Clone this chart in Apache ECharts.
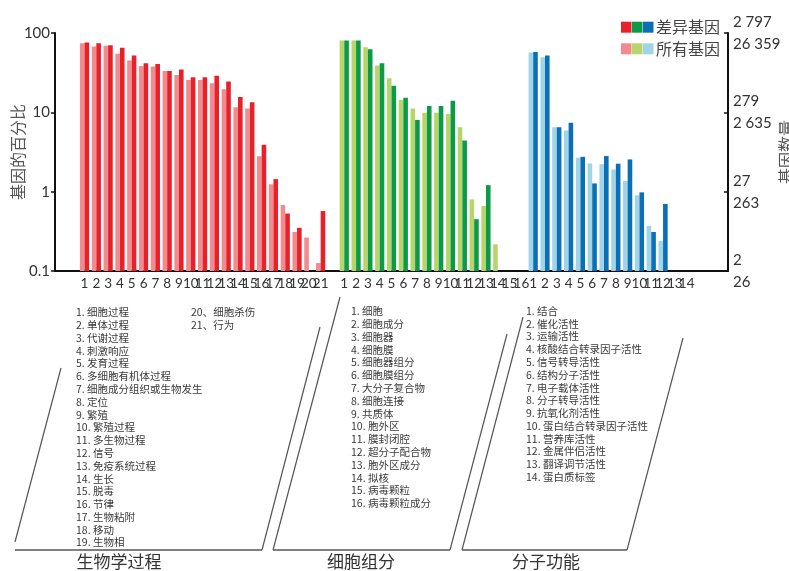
<!DOCTYPE html>
<html>
<head>
<meta charset="utf-8">
<script src="https://cdn.jsdelivr.net/npm/echarts@6/dist/echarts.min.js"></script>
<style>
  html, body { margin: 0; padding: 0; background: #fff; }
  #chart { width: 789px; height: 571px; }
</style>
</head>
<body>
<div id="chart"></div>
<script>
// GO term names per ontology
const bpTerms = ['细胞过程', '单体过程', '代谢过程', '刺激响应', '发育过程', '多细胞有机体过程',
  '细胞成分组织或生物发生', '定位', '繁殖', '繁殖过程', '多生物过程', '信号', '免疫系统过程',
  '生长', '脱毒', '节律', '生物粘附', '移动', '生物相', '细胞杀伤', '行为'];
const ccTerms = ['细胞', '细胞成分', '细胞器', '细胞膜', '细胞器组分', '细胞膜组分', '大分子复合物',
  '细胞连接', '共质体', '胞外区', '膜封闭腔', '超分子配合物', '胞外区成分', '拟核', '病毒颗粒', '病毒颗粒成分'];
const mfTerms = ['结合', '催化活性', '运输活性', '核酸结合转录因子活性', '信号转导活性', '结构分子活性',
  '电子载体活性', '分子转导活性', '抗氧化剂活性', '蛋白结合转录因子活性', '营养库活性', '金属伴侣活性',
  '翻译调节活性', '蛋白质标签'];

// Percentage of genes per term: all genes vs differentially expressed genes
const bpAll  = [74.5, 67.5, 68.9, 54.6, 45, 38.5, 37.8, 33.3, 29.6, 25.6, 25.6, 23.2, 19.5, 11.6, 11.2, 2.8, 1.24, 0.68, 0.31, 0.264, 0.126];
const bpDiff = [75.9, 74.5, 70, 65, 52, 41.6, 40.8, 33.3, 34.6, 27.7, 27.7, 29, 24.4, 15.6, 13.4, 3.9, 1.44, 0.53, 0.35, null, 0.57];
const ccAll  = [80.4, 80.4, 66.2, 38.8, 26.9, 14.3, 11.2, 9.9, 9.9, 9.5, 6.5, 0.80, 0.66, 0.217, null, null];
const ccDiff = [80.4, 80.4, 62.5, 41.6, 21.7, 15.3, 8.0, 12.0, 12.0, 14.0, 4.4, 0.45, 1.21, null, null, null];
const mfAll  = [56.7, 49.5, 6.5, 5.9, 2.68, 2.27, 2.22, 1.9, 1.36, 0.90, 0.37, 0.24, null, null];
const mfDiff = [57.8, 52, 6.5, 7.4, 2.75, 1.27, 2.81, 2.25, 2.55, 0.98, 0.31, 0.70, null, null];

// Left axis ticks (percent) and matching gene counts on the right axis
const pctTicks = [0.1, 1, 10, 100];
const diffCounts = ['2', '27', '279', '2 797'];
const allCounts = ['26', '263', '2 635', '26 359'];

const sectionTitles = ['生物学过程', '细胞组分', '分子功能'];
const legendNames = ['差异基因', '所有基因'];

const colors = {
  bp: ['#f28b8e', '#e8202a'],
  cc: ['#b6d66c', '#0d9a48'],
  mf: ['#a0d4e8', '#0a6fb4']
};

const Y_MIN = 0.1, Y_MAX = 100;

// Category slots: leading padding, BP, one spacer, CC, MF, trailing padding
const LEAD = 2, TRAIL = 3;
const cats = [];
const slotColors = [];
const lightData = [], darkData = [];
function pad(n) { for (let i = 0; i < n; i++) { cats.push(''); slotColors.push(null); } }
function addSection(terms, all, diff, col) {
  terms.forEach((t, i) => {
    const idx = cats.length;
    cats.push(String(i + 1));
    slotColors.push(col);
    if (all[i] != null) lightData.push([idx, all[i]]);
    if (diff[i] != null) darkData.push([idx, diff[i]]);
  });
}
pad(LEAD);
addSection(bpTerms, bpAll, bpDiff, colors.bp);
pad(1);
addSection(ccTerms, ccAll, ccDiff, colors.cc);
addSection(mfTerms, mfAll, mfDiff, colors.mf);
pad(TRAIL);
const nCats = cats.length;

// Paired bars rising from the bottom of the log axis; shade 0 = left (all), 1 = right (diff)
function pairedBar(shade) {
  return function (params, api) {
    const idx = api.value(0);
    const top = api.coord([idx, api.value(1)]);
    const base = api.coord([idx, Y_MIN]);
    const band = api.size([1, 0])[0];
    const bw = band * 0.78 / 2;
    const x = shade === 0 ? top[0] - bw : top[0];
    return {
      type: 'rect',
      shape: { x: x, y: top[1], width: bw, height: base[1] - top[1] },
      style: { fill: slotColors[idx][shade] }
    };
  };
}

const numFont = 'Lato, "DejaVu Sans", sans-serif';
const cjkFont = '"Noto Sans CJK SC", sans-serif';

// Term lists under the axis
function listText(terms, start, end, sep) {
  return terms.slice(start, end).map((t, i) => (start + i + 1) + sep + t).join('\n');
}
const LH = 12.78;
function listBlock(text, x, y) {
  return { type: 'text', left: x, top: y,
    style: { text: text, fontSize: 10.5, fontFamily: cjkFont, fill: '#3a3a3a', lineHeight: LH } };
}
function line(p1, p2, w) {
  return { type: 'line', shape: { x1: p1[0], y1: p1[1], x2: p2[0], y2: p2[1] },
    style: { stroke: '#555', lineWidth: w || 1.2 } };
}
function title(text, cx) {
  return { type: 'text', x: cx, y: 562,
    style: { text: text, fontSize: 17, fontFamily: cjkFont, fill: '#333', align: 'center', verticalAlign: 'middle' } };
}

const graphics = [
  listBlock(listText(bpTerms, 0, 19, '. '), 76, 306),
  listBlock(listText(bpTerms, 19, 21, '、'), 191, 306),
  listBlock(listText(ccTerms, 0, ccTerms.length, '. '), 351, 305),
  listBlock(listText(mfTerms, 0, mfTerms.length, '. '), 526, 304.5),
  // framing brackets for the three term lists
  line([61, 368], [15, 542]), line([15, 550], [262, 550], 1.5), line([262, 550], [320, 327]),
  line([340, 297], [273, 550]), line([273, 550], [450, 550], 1.5), line([450, 550], [507, 334]),
  line([523, 317], [462, 550]), line([462, 550], [627, 550], 1.5), line([627, 550], [683, 338]),
  title(sectionTitles[0], 119), title(sectionTitles[1], 361), title(sectionTitles[2], 546)
];
// Legend: three swatches per row followed by the label
[[1, 27.2, legendNames[0]], [0, 48.8, legendNames[1]]].forEach(([shade, cy, name]) => {
  ['bp', 'cc', 'mf'].forEach((k, j) => {
    graphics.push({ type: 'rect', shape: { x: 621 + j * 11, y: cy - 5.5, width: 10.5, height: 11 },
      style: { fill: colors[k][shade] } });
  });
  graphics.push({ type: 'text', x: 656, y: cy,
    style: { text: name, fontSize: 16, fontFamily: cjkFont, fill: '#444', verticalAlign: 'middle' } });
});

const chart = echarts.init(document.getElementById('chart'));
chart.setOption({
  backgroundColor: '#fff',
  animation: false,
  grid: { left: 55, right: 61, top: 33, bottom: 300, containLabel: false, outerBoundsMode: 'none' },
  xAxis: {
    type: 'category',
    data: cats,
    axisLine: { lineStyle: { color: '#111', width: 2 } },
    axisTick: {
      inside: true, length: 4, lineStyle: { color: '#111', width: 1.5 },
      interval: (idx) => idx >= LEAD && idx <= nCats - TRAIL
    },
    axisLabel: { interval: 0, margin: 6, fontSize: 13.5, fontFamily: numFont, color: '#333' }
  },
  yAxis: [
    {
      type: 'log', logBase: 10, min: Y_MIN, max: Y_MAX,
      name: '基因的百分比', nameLocation: 'middle', nameGap: 29, nameRotate: 90, nameMoveOverlap: false,
      nameTextStyle: { fontSize: 16, fontFamily: cjkFont, color: '#555' },
      axisLine: { show: true, lineStyle: { color: '#111', width: 2 } },
      axisTick: { show: true, length: 4, lineStyle: { color: '#111', width: 1.5 } },
      axisLabel: { fontSize: 15, fontFamily: numFont, color: '#333', margin: 5,
        formatter: (v) => String(v) },
      splitLine: { show: false }
    },
    {
      type: 'log', logBase: 10, min: Y_MIN, max: Y_MAX, position: 'right',
      name: '基因数量', nameLocation: 'middle', nameGap: 50, nameRotate: 90, nameMoveOverlap: false,
      nameTextStyle: { fontSize: 16, fontFamily: cjkFont, color: '#555' },
      axisLine: { show: true, lineStyle: { color: '#111', width: 2 } },
      axisTick: { show: true, inside: true, length: 4, lineStyle: { color: '#111', width: 1.5 } },
      axisLabel: { fontSize: 15, fontFamily: numFont, color: '#333', margin: 5, lineHeight: 22,
        formatter: (v) => {
          const i = pctTicks.findIndex(t => Math.abs(Math.log10(t) - Math.log10(v)) < 1e-6);
          return i < 0 ? '' : diffCounts[i] + '\n' + allCounts[i];
        } },
      splitLine: { show: false }
    }
  ],
  series: [
    { name: legendNames[1], type: 'custom', renderItem: pairedBar(0), data: lightData,
      encode: { x: 0, y: 1 }, clip: true },
    { name: legendNames[0], type: 'custom', renderItem: pairedBar(1), data: darkData,
      encode: { x: 0, y: 1 }, clip: true }
  ],
  graphic: graphics
});
</script>
</body>
</html>
